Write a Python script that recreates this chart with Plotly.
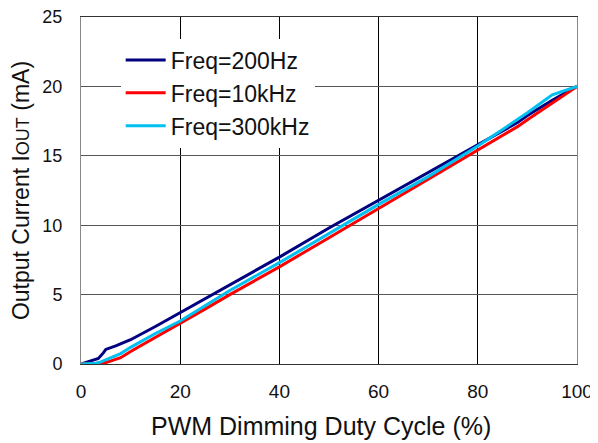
import plotly.graph_objects as go

duty_200 = [0, 1, 2, 3, 3.5, 4.5, 5, 7, 10, 15, 20, 25, 30, 40, 50, 60, 70, 80, 85, 88, 90, 95, 100]
iout_200 = [0, 0.1, 0.2, 0.3, 0.4, 0.8, 1.05, 1.3, 1.75, 2.7, 3.7, 4.7, 5.7, 7.7, 9.8, 11.8, 13.8, 15.8, 16.8, 17.4, 17.9, 19.0, 20]

duty_10k = [0, 2, 4, 5, 6, 8, 10, 15, 20, 25, 30, 40, 50, 60, 70, 80, 85, 88, 90, 95, 100]
iout_10k = [0, 0, 0.05, 0.1, 0.2, 0.45, 0.9, 1.9, 2.9, 3.95, 5.0, 7.0, 9.1, 11.2, 13.3, 15.4, 16.5, 17.1, 17.6, 18.8, 20]

duty_300k = [0, 2, 3, 4, 5, 6, 8, 10, 15, 20, 25, 30, 40, 50, 60, 70, 80, 85, 88, 90, 95, 100]
iout_300k = [0, 0, 0.05, 0.15, 0.3, 0.45, 0.75, 1.2, 2.2, 3.1, 4.2, 5.3, 7.3, 9.4, 11.5, 13.5, 15.7, 16.9, 17.6, 18.1, 19.4, 20]

names = ["Freq=200Hz", "Freq=10kHz", "Freq=300kHz"]
colors = ["#000080", "#ff0000", "#00c0f0"]

x_ticks = [0, 20, 40, 60, 80, 100]
y_ticks = [0, 5, 10, 15, 20, 25]

fig = go.Figure()
for xs, ys, n, c in zip([duty_200, duty_10k, duty_300k], [iout_200, iout_10k, iout_300k], names, colors):
    fig.add_trace(go.Scatter(x=xs, y=ys, mode="lines", name=n, line=dict(color=c, width=3)))

font = "Liberation Sans, Arial, sans-serif"
fig.update_layout(
    width=590, height=435,
    margin=dict(l=73, r=21, t=9, b=79, autoexpand=False),
    paper_bgcolor="white", plot_bgcolor="white",
    font=dict(family=font, size=19, color="#111"),
    showlegend=True,
    legend=dict(x=0.08, y=0.938, xanchor="left", yanchor="top", bgcolor="white",
                font=dict(size=23, family=font, color="#111"), tracegroupgap=0,
                itemwidth=40),
    xaxis=dict(range=[0, 100], tickvals=x_ticks, showgrid=True, gridcolor="#000", gridwidth=1,
               showline=True, linecolor="#333", mirror=True, ticks="", ticklabelstandoff=10,
               ticklabeloverflow="allow", tickfont=dict(size=19),
               zeroline=False, automargin=False),
    yaxis=dict(range=[0, 25], tickvals=y_ticks, showgrid=True, gridcolor="#555", gridwidth=1,
               showline=True, linecolor="#888", mirror=True, ticks="", ticklabelstandoff=14,
               ticklabeloverflow="allow", tickfont=dict(size=18),
               zeroline=False, automargin=False,
               title=dict(text="Output Current I<span style='font-size:18px'>OUT</span> (mA)",
                          font=dict(size=23), standoff=10)),
    annotations=[dict(text="PWM Dimming Duty Cycle (%)", xref="paper", yref="paper",
                      x=0.5, y=0, xshift=-8, yshift=-46, xanchor="center", yanchor="top",
                      showarrow=False, font=dict(size=25, family=font, color="#111"))],
)
fig.write_html("out.html")
